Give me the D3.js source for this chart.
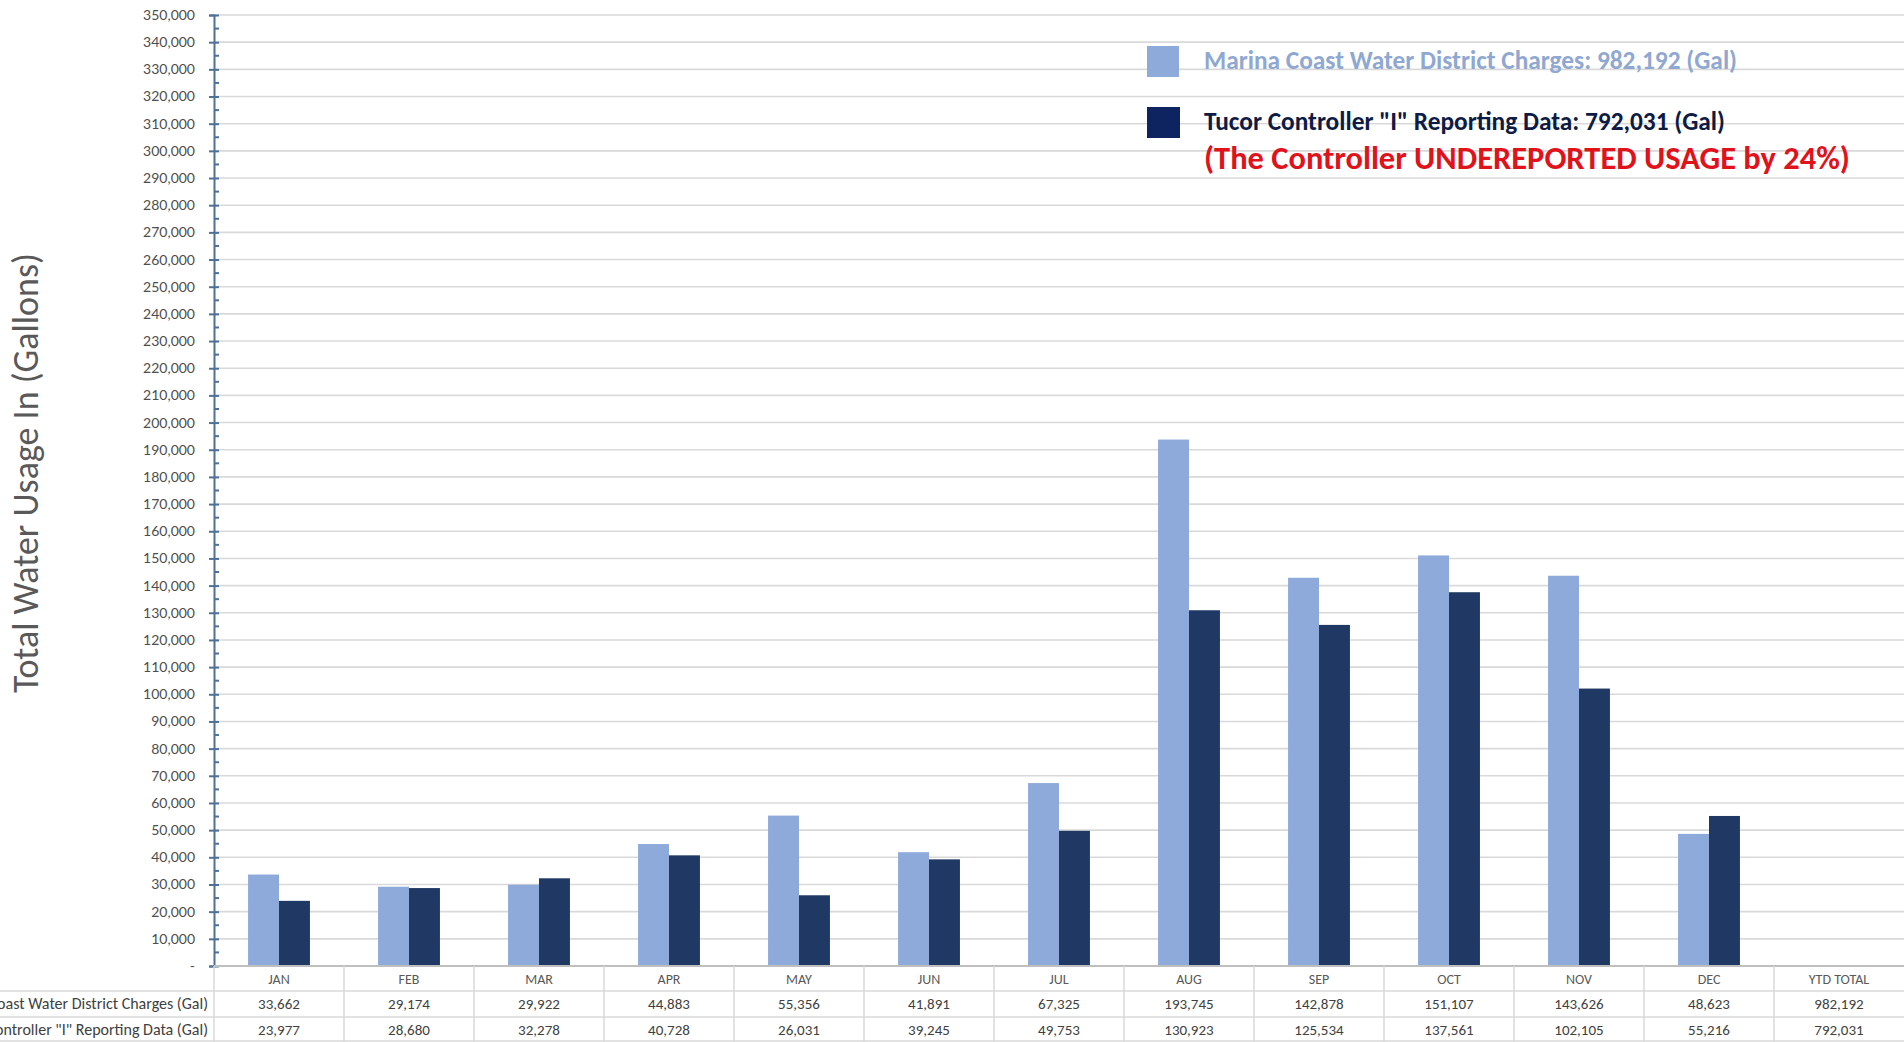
<!DOCTYPE html>
<html><head><meta charset="utf-8">
<script src="https://cdn.jsdelivr.net/npm/d3@7"></script>
<style>html,body{margin:0;padding:0;background:#fff;overflow:hidden}svg{display:block}</style>
</head><body>
<script>
const months = ["JAN","FEB","MAR","APR","MAY","JUN","JUL","AUG","SEP","OCT","NOV","DEC","YTD TOTAL"];
const marinaValues = [33662,29174,29922,44883,55356,41891,67325,193745,142878,151107,143626,48623];
const tucorValues  = [23977,28680,32278,40728,26031,39245,49753,130923,125534,137561,102105,55216];
const marinaTotal = 982192, tucorTotal = 792031;
const rowLabels = ["Marina Coast Water District Charges (Gal)", "Tucor Controller  \"I\" Reporting Data (Gal)"];
const seriesNames = ["Marina Coast Water District Charges: 982,192 (Gal)", "Tucor Controller \"I\" Reporting Data: 792,031 (Gal)"];
const noteText = "(The Controller UNDEREPORTED USAGE by 24%)";
const yAxisTitle = "Total Water Usage In (Gallons)";

(function(){
const W = 1904, H = 1042;
const leftX = 214, rightX = 1904, topY = 15, zeroY = 966;
const rowH = [25, 26, 25];
const fmt = d3.format(",");
const LIGHT = "#8eaadb", DARK = "#1f3864";
const CAL = "Carlito, Calibri, 'Open Sans', sans-serif";

const svg = d3.select("body").append("svg").attr("width", W).attr("height", H);

const x = d3.scaleBand().domain(months).range([leftX, rightX]);
const bw = x.bandwidth();
const xs = d3.scaleBand().domain(["m","t"]).range([bw*0.262, bw*0.738]);
const y = d3.scaleLinear().domain([0, 350000]).range([zeroY, topY]);

function fit(sel, target) {
  sel.each(function(){
    const n = this; const fs = parseFloat(n.getAttribute("font-size"));
    const w = n.getComputedTextLength();
    if (w > 0) n.setAttribute("font-size", (fs * target / w).toFixed(2));
  });
}

// gridlines
svg.append("g").selectAll("line").data(d3.range(10000, 350001, 10000)).join("line")
  .attr("x1", leftX).attr("x2", rightX).attr("y1", d=>y(d)).attr("y2", d=>y(d))
  .attr("stroke", "#d9d9d9").attr("stroke-width", 1.6);

// y axis
const yAxis = d3.axisLeft(y).tickValues(d3.range(0, 350001, 10000))
  .tickFormat(d => d === 0 ? "-" : fmt(d)).tickSize(5).tickPadding(14);
const ga = svg.append("g").attr("transform", `translate(${leftX},0)`).call(yAxis);
ga.select(".domain").attr("stroke", "#4f7197").attr("stroke-width", 2);
ga.selectAll(".tick line").attr("stroke", "#4f7197").attr("stroke-width", 2).attr("x2", 5).attr("x1", -5);
ga.selectAll(".tick text").attr("font-family", "Lato, sans-serif").attr("font-size", 14).attr("fill", "#4d4d4d");
// minor ticks
svg.append("g").selectAll("line").data(d3.range(5000, 350000, 10000)).join("line")
  .attr("x1", leftX).attr("x2", leftX+5).attr("y1", d=>y(d)).attr("y2", d=>y(d))
  .attr("stroke", "#4f7197").attr("stroke-width", 2);

// bars
const data = months.slice(0,12).map((m,i)=>({m, v:[["m",marinaValues[i]],["t",tucorValues[i]]]}));
const g = svg.append("g").selectAll("g").data(data).join("g").attr("transform", d=>`translate(${x(d.m)},0)`);
g.selectAll("rect").data(d=>d.v).join("rect")
  .attr("x", d=>xs(d[0])).attr("width", xs.bandwidth())
  .attr("y", d=>y(d[1])).attr("height", d=>zeroY - y(d[1]))
  .attr("fill", d=>d[0]==="m" ? LIGHT : DARK);

// zero line
svg.append("line").attr("x1", leftX).attr("x2", rightX).attr("y1", zeroY).attr("y2", zeroY)
  .attr("stroke", "#bfbfbf").attr("stroke-width", 2);

// table
const rowTop = [zeroY, zeroY+rowH[0], zeroY+rowH[0]+rowH[1]];
const tg = svg.append("g");
[rowTop[1], rowTop[2], H-1].forEach(yy => tg.append("line").attr("x1", 0).attr("x2", rightX)
  .attr("y1", yy).attr("y2", yy).attr("stroke", "#d9d9d9").attr("stroke-width", 1.5));
tg.selectAll(".vl").data(months).join("line").attr("class","vl")
  .attr("x1", d=>x(d)).attr("x2", d=>x(d)).attr("y1", zeroY).attr("y2", H)
  .attr("stroke", "#d9d9d9").attr("stroke-width", 1.5);
tg.selectAll(".mh").data(months).join("text").attr("class","mh")
  .attr("x", d=>x(d)+bw/2).attr("y", rowTop[0]+rowH[0]/2+5).attr("text-anchor","middle")
  .attr("font-family", CAL).attr("font-size", 14).attr("fill", "#595959").text(d=>d);
const rows = [marinaValues.concat([marinaTotal]), tucorValues.concat([tucorTotal])];
rows.forEach((r, ri) => {
  tg.selectAll(".r"+ri).data(r).join("text").attr("class","r"+ri)
    .attr("x", (d,i)=>x(months[i])+bw/2).attr("y", rowTop[ri+1]+rowH[ri+1]/2+5).attr("text-anchor","middle")
    .attr("font-family", CAL).attr("font-size", 15).attr("fill", "#404040").text(d=>fmt(d));
  tg.append("text").attr("x", leftX-6).attr("y", rowTop[ri+1]+rowH[ri+1]/2+5).attr("text-anchor","end")
    .attr("font-family", CAL).attr("font-size", 16).attr("fill", "#404040").text(rowLabels[ri]);
});

// y title
const yt = svg.append("text").attr("transform", "translate(38,473) rotate(-90)").attr("text-anchor","middle")
  .attr("font-family", CAL).attr("font-size", 28).attr("fill", "#595959").text(yAxisTitle);
fit(yt, 440);

// legend
svg.append("rect").attr("x", 1147).attr("y", 46).attr("width", 32).attr("height", 31).attr("fill", LIGHT);
svg.append("rect").attr("x", 1147).attr("y", 107).attr("width", 33).attr("height", 31).attr("fill", "#0d2460");
const l1 = svg.append("text").attr("x", 1204).attr("y", 69).attr("font-family", CAL).attr("font-weight","bold")
  .attr("font-size", 20).attr("fill", "#8fa8d2").text(seriesNames[0]);
fit(l1, 533);
const l2 = svg.append("text").attr("x", 1204).attr("y", 130).attr("font-family", CAL).attr("font-weight","bold")
  .attr("font-size", 20).attr("fill", "#0d1b45").text(seriesNames[1]);
fit(l2, 521);
const l3 = svg.append("text").attr("x", 1204).attr("y", 169).attr("font-family", CAL).attr("font-weight","bold")
  .attr("font-size", 27).attr("fill", "#e0121b").text(noteText);
fit(l3, 646);
})();
</script>
</body></html>
